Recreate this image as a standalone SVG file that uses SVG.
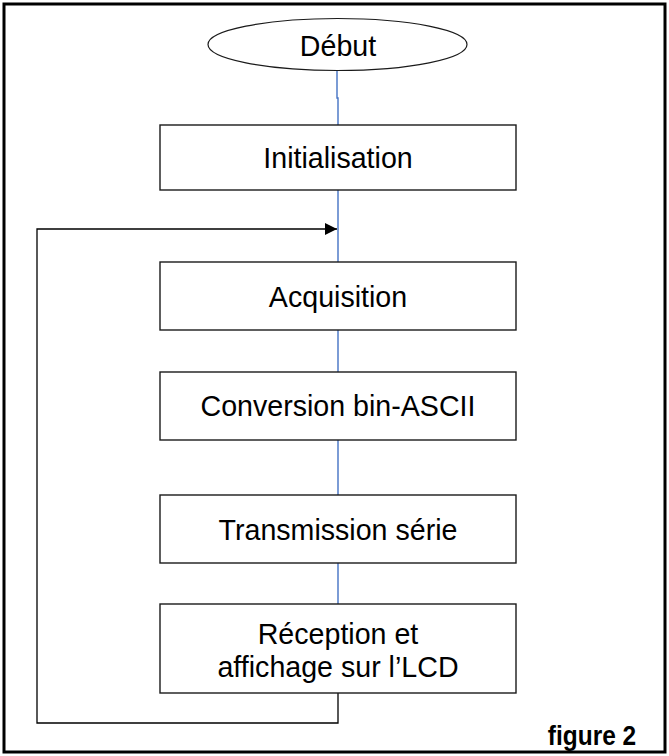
<svg xmlns="http://www.w3.org/2000/svg" width="669" height="756" viewBox="0 0 669 756">
<style>
.box{fill:#fff;stroke:#1a1a1a;stroke-width:1.4}
.t{font-family:"Liberation Sans",Arial,sans-serif;font-size:28.6px;fill:#000;text-anchor:middle}
.blue{stroke:#4472C4;stroke-width:1.4;fill:none}
.blk{stroke:#000;stroke-width:1.3;fill:none}
</style>
<defs>
<marker id="arr" viewBox="0 0 10 10" refX="10" refY="5" markerWidth="12" markerHeight="12" markerUnits="userSpaceOnUse" orient="auto">
<path d="M0,0 L10,5 L0,10 z" fill="#000"/>
</marker>
</defs>
<rect x="0" y="0" width="669" height="756" fill="#fff"/>
<rect x="4" y="4" width="661" height="748" fill="none" stroke="#000" stroke-width="3"/>
<g id="connectors">
<path class="blue" d="M337,70 V98 H338 V125"/>
<path class="blue" d="M338,190 V262"/>
<path class="blue" d="M338,330 V372"/>
<path class="blue" d="M338,440 V495"/>
<path class="blue" d="M338,563 V604"/>
<path class="blk" d="M338,693 V723 H37 V229 H337" marker-end="url(#arr)"/>
</g>
<g id="debut">
<ellipse cx="337.5" cy="44.5" rx="129.5" ry="26" fill="#fff" stroke="#1a1a1a" stroke-width="1.2"/>
<text class="t" transform="translate(338,55.5) scale(1,1.06)">Début</text>
</g>
<g id="initialisation">
<rect class="box" x="160" y="125" width="356" height="65"/>
<text class="t" transform="translate(338,167.5) scale(1,1.06)">Initialisation</text>
</g>
<g id="acquisition">
<rect class="box" x="160" y="262" width="356" height="68"/>
<text class="t" transform="translate(338,306.5) scale(1,1.06)">Acquisition</text>
</g>
<g id="conversion">
<rect class="box" x="160" y="372" width="356" height="68"/>
<text class="t" transform="translate(338,416) scale(1,1.06)">Conversion bin-ASCII</text>
</g>
<g id="transmission">
<rect class="box" x="160" y="495" width="356" height="68"/>
<text class="t" transform="translate(338,539.5) scale(1,1.06)">Transmission série</text>
</g>
<g id="reception">
<rect class="box" x="160" y="604" width="356" height="89"/>
<text class="t" transform="translate(338,643.5) scale(1,1.06)">Réception et</text>
<text class="t" transform="translate(338,676.5) scale(1,1.06)">affichage sur l’LCD</text>
</g>
<text transform="translate(592,745) scale(1,1.12)" font-family="'Liberation Sans',Arial,sans-serif" font-size="24.5" font-weight="bold" text-anchor="middle" fill="#000">figure 2</text>
</svg>
